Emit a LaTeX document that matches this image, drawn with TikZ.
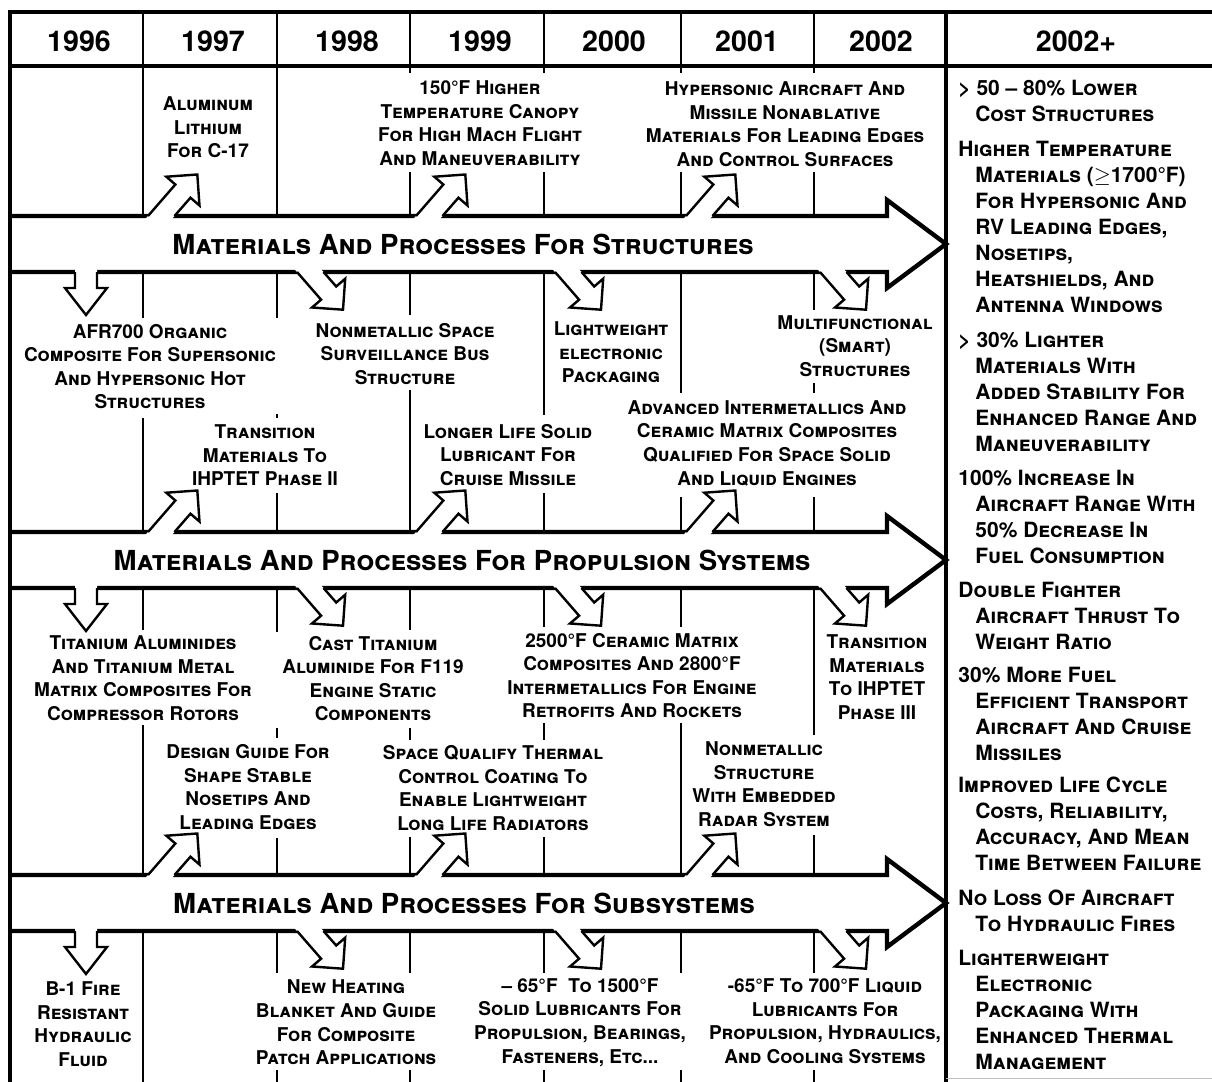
\documentclass[tikz,border=0pt]{standalone}
\usepackage{fontspec}
\setmainfont{TeX Gyre Heros}
\newcommand\gi{\hspace*{8.5pt}}
\tikzset{
  frameline/.style={line width=2pt},
  divider/.style={line width=1pt},
  bandline/.style={line width=2.2pt},
  branchline/.style={line width=1.2pt, line join=miter},
  yearlbl/.style={font=\fontsize{14.3}{16}\selectfont\bfseries},
  bandlbl/.style={font=\fontsize{13.8}{16}\selectfont\bfseries\scshape},
  itemlbl/.style={align=center, inner sep=0pt, font=\fontsize{9.5}{11.8}\selectfont\bfseries\scshape},
  goallbl/.style={align=left, anchor=west, inner sep=0pt, font=\fontsize{10.5}{13}\selectfont\bfseries\scshape},
  upbranch/.pic={
    \fill[white] (-2.6,3) -- (27.35,-31.5) -- (18.3,-39.3) -- (49.3,-41.5) -- (51.5,-10.5) -- (42.45,-18.3) -- (23.9,3) -- cycle;
    \draw[branchline] (0,0) -- (27.35,-31.5) -- (18.3,-39.3) -- (49.3,-41.5) -- (51.5,-10.5) -- (42.45,-18.3) -- (26.5,0);
  },
  downbranch/.pic={
    \fill[white] (-2.6,-3) -- (24.1,27.7) -- (15,35.5) -- (46,37.7) -- (48.2,6.7) -- (39.2,14.5) -- (23.9,-3) -- cycle;
    \draw[branchline] (0,0) -- (24.1,27.7) -- (15,35.5) -- (46,37.7) -- (48.2,6.7) -- (39.2,14.5) -- (26.5,0);
  },
  dropbranch/.pic={
    \fill[white] (-11,-3) -- (-11,16) -- (-21,16) -- (0,43) -- (21,16) -- (11,16) -- (11,-3) -- cycle;
    \draw[branchline] (-11,0) -- (-11,16) -- (-21,16) -- (0,43) -- (21,16) -- (11,16) -- (11,0);
  }
}
\begin{document}
\begin{tikzpicture}[x=0.5pt,y=-0.5pt]
    \useasboundingbox (0,0) rectangle (1212,1082);
    \draw[frameline] (1212,12) -- (10,12) -- (10,1082);
    \draw[frameline] (10,66) -- (1212,66);
    \draw[frameline] (946,12) -- (946,1082);
    \draw[gray!50, line width=0.5pt] (946,1078) -- (1212,1078);

    \foreach \x/\a/\b in {143/12/216, 277/12/216, 410/12/73, 410/172/216, 544/12/73, 544/172/216,
        681/12/73, 681/172/216, 814/12/73, 814/172/216,
        143/272/318, 143/418/532, 277/272/318, 277/414/418, 277/493/532, 410/272/315, 410/390/532,
        544/272/415, 544/493/532, 681/272/393, 681/497/532, 814/272/310, 814/383/393, 814/497/532,
        143/588/630, 143/725/875, 277/588/632, 277/728/738, 277/838/875, 410/588/630, 410/728/740,
        410/837/875, 544/588/627, 544/723/740, 544/837/875, 681/588/627, 681/723/875, 814/588/735,
        814/835/875,
        143/931/1082, 277/931/973, 277/1070/1082, 410/931/973, 410/1070/1082, 544/931/973,
        544/1070/1082, 681/931/973, 681/1070/1082, 814/931/973, 814/1070/1082}
        \draw[divider] (\x,\a) -- (\x,\b);

    \foreach \t in {216,532,875}
        \draw[bandline] (10,\t) -- (887,\t) -- (887,\t-16) -- (946,\t+28) -- (887,\t+72) -- (887,\t+56) -- (10,\t+56);

    \foreach \t in {216,532,875} {
        \pic at (148,\t) {upbranch};
        \pic at (416,\t) {upbranch};
        \pic at (686,\t) {upbranch};
        \pic at (297,\t+56) {downbranch};
        \pic at (555,\t+56) {downbranch};
        \pic at (820,\t+56) {downbranch};
        \pic at (86,\t+56) {dropbranch};
    }

    \node[yearlbl](y1996)  at (79,41)   {1996};
    \node[yearlbl](y1997)  at (213,41)  {1997};
    \node[yearlbl](y1998)  at (347,41)  {1998};
    \node[yearlbl](y1999)  at (480,41)  {1999};
    \node[yearlbl](y2000)  at (614,41)  {2000};
    \node[yearlbl](y2001)  at (747,41)  {2001};
    \node[yearlbl](y2002)  at (881,41)  {2002};
    \node[yearlbl](y2002p) at (1076,41) {2002+};

    \node[bandlbl](band-st) at (463,244) {Materials And Processes For Structures};
    \node[bandlbl](band-pr) at (462,560) {Materials And Processes For Propulsion Systems};
    \node[bandlbl](band-sb) at (464,903) {Materials And Processes For Subsystems};

    \node[itemlbl](st-alu)    at (208,127.5) {Aluminum\\Lithium\\For C-17};
    \node[itemlbl](st-canopy) at (480,123)   {150°F Higher\\Temperature Canopy\\For High Mach Flight\\And Maneuverability};
    \node[itemlbl](st-hyper)  at (785,124)   {Hypersonic Aircraft And\\Missile Nonablative\\Materials For Leading Edges\\And Control Surfaces};
    \node[itemlbl](st-afr)    at (150,366.5) {AFR700 Organic\\Composite For Supersonic\\And Hypersonic Hot\\Structures};
    \node[itemlbl](st-bus)    at (405,354)   {Nonmetallic Space\\Surveillance Bus\\Structure};
    \node[itemlbl](st-pack)   at (611,352.5) {Lightweight\\electronic\\Packaging};
    \node[itemlbl](st-smart)  at (855,346)   {Multifunctional\\(Smart)\\Structures};

    \node[itemlbl](pr-trans)  at (265,455.5) {Transition\\Materials To\\IHPTET Phase II};
    \node[itemlbl](pr-lube)   at (508,455)   {Longer Life Solid\\Lubricant For\\Cruise Missile};
    \node[itemlbl](pr-inter)  at (767,443)   {Advanced Intermetallics And\\Ceramic Matrix Composites\\Qualified For Space Solid\\And Liquid Engines};
    \node[itemlbl](pr-ti)     at (143,678)   {Titanium Aluminides\\And Titanium Metal\\Matrix Composites For\\Compressor Rotors};
    \node[itemlbl](pr-cast)   at (373,678.5) {Cast Titanium\\Aluminide For F119\\Engine Static\\Components};
    \node[itemlbl](pr-cmc)    at (632,675.5) {2500°F Ceramic Matrix\\Composites And 2800°F\\Intermetallics For Engine\\Retrofits And Rockets};
    \node[itemlbl](pr-phase)  at (877,677)   {Transition\\Materials\\To IHPTET\\Phase III};

    \node[itemlbl](sb-guide)  at (248,787)   {Design Guide For\\Shape Stable\\Nosetips And\\Leading Edges};
    \node[itemlbl](sb-coat)   at (493,788)   {Space Qualify Thermal\\Control Coating To\\Enable Lightweight\\Long Life Radiators};
    \node[itemlbl](sb-radar)  at (764,784)   {Nonmetallic\\Structure\\With Embedded\\Radar System};
    \node[itemlbl](sb-fluid)  at (83,1024)   {B-1 Fire\\Resistant\\Hydraulic\\Fluid};
    \node[itemlbl](sb-patch)  at (346,1022.5) {New Heating\\Blanket And Guide\\For Composite\\Patch Applications};
    \node[itemlbl](sb-solid)  at (580,1022.5) {-- 65°F\ \ To 1500°F\\Solid Lubricants For\\Propulsion, Bearings,\\Fasteners, Etc...};
    \node[itemlbl](sb-liquid) at (825,1021)  {-65°F To 700°F Liquid\\Lubricants For\\Propulsion, Hydraulics,\\And Cooling Systems};

    \node[goallbl](gl-cost)   at (958,100.5) {> 50 -- 80\% Lower\\\gi Cost Structures};
    \node[goallbl](gl-temp)   at (958,227)   {Higher Temperature\\\gi Materials ($\geq$1700°F)\\\gi For Hypersonic And\\\gi RV Leading Edges,\\\gi Nosetips,\\\gi Heatshields, And\\\gi Antenna Windows};
    \node[goallbl](gl-light)  at (958,391.5) {> 30\% Lighter\\\gi Materials With\\\gi Added Stability For\\\gi Enhanced Range And\\\gi Maneuverability};
    \node[goallbl](gl-range)  at (958,517)   {100\% Increase In\\\gi Aircraft Range With\\\gi 50\% Decrease In\\\gi Fuel Consumption};
    \node[goallbl](gl-thrust) at (958,616)   {Double Fighter\\\gi Aircraft Thrust To\\\gi Weight Ratio};
    \node[goallbl](gl-fuel)   at (958,714)   {30\% More Fuel\\\gi Efficient Transport\\\gi Aircraft And Cruise\\\gi Missiles};
    \node[goallbl](gl-life)   at (958,824)   {Improved Life Cycle\\\gi Costs, Reliability,\\\gi Accuracy, And Mean\\\gi Time Between Failure};
    \node[goallbl](gl-fire)   at (958,910.5) {No Loss Of Aircraft\\\gi To Hydraulic Fires};
    \node[goallbl](gl-pack)   at (958,1010)  {Lighterweight\\\gi Electronic\\\gi Packaging With\\\gi Enhanced Thermal\\\gi Management};
\end{tikzpicture}
\end{document}
